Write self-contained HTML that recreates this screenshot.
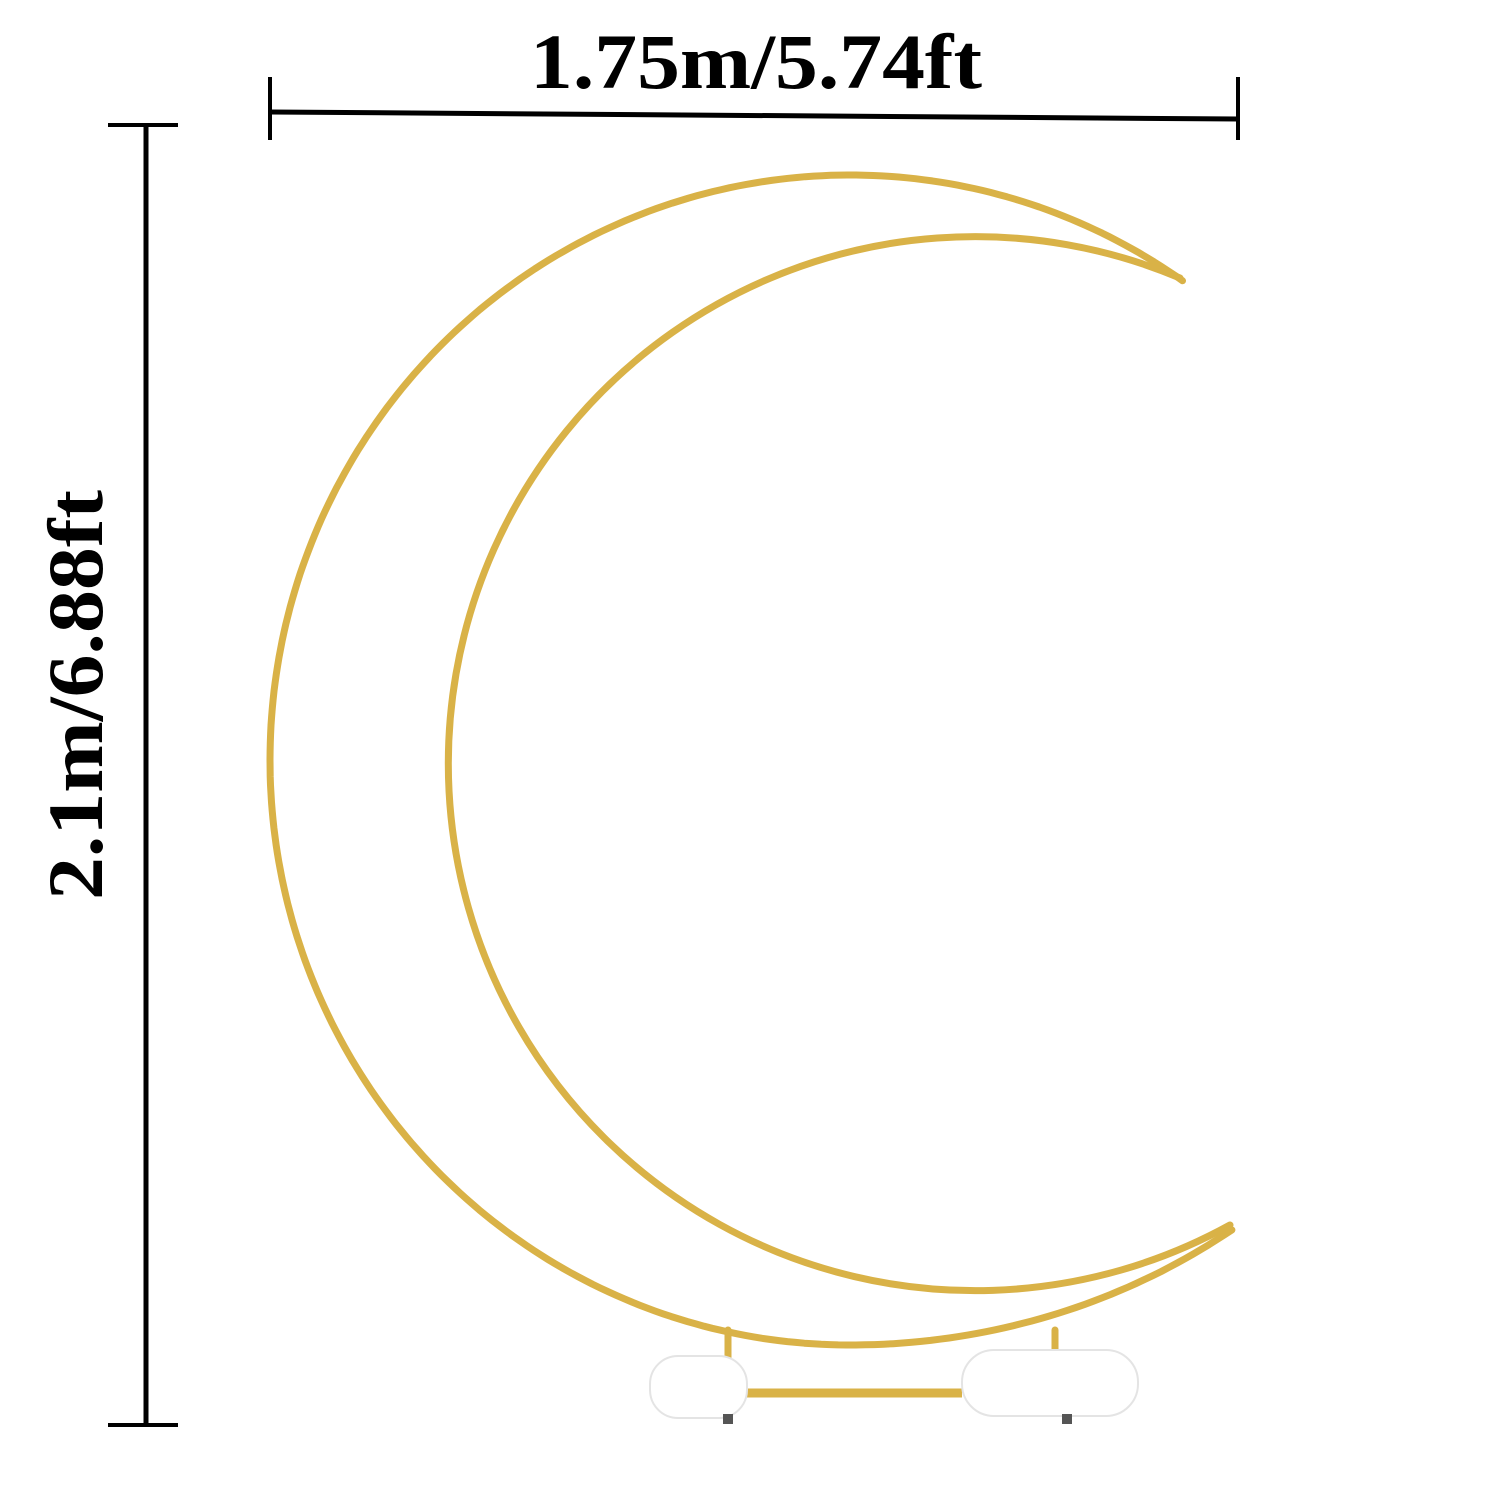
<!DOCTYPE html>
<html><head><meta charset="utf-8"><style>
html,body{margin:0;padding:0;background:#fff;width:1500px;height:1500px;overflow:hidden}
svg{display:block}
text{font-family:"Liberation Serif",serif;font-weight:bold;fill:#000}
</style></head><body>
<svg width="1500" height="1500" viewBox="0 0 1500 1500">
  <g>
    <line x1="270" y1="112" x2="1238" y2="119" stroke="#000" stroke-width="5"/>
    <line x1="270" y1="77" x2="270" y2="140" stroke="#000" stroke-width="4"/>
    <line x1="1238" y1="77" x2="1238" y2="140" stroke="#000" stroke-width="4"/>
    <text x="530" y="88" font-size="78" textLength="452" lengthAdjust="spacingAndGlyphs">1.75m/5.74ft</text>
  </g>
  <g>
    <line x1="146" y1="125" x2="146" y2="1425" stroke="#000" stroke-width="5"/>
    <line x1="108" y1="125" x2="178" y2="125" stroke="#000" stroke-width="4"/>
    <line x1="108" y1="1425" x2="178" y2="1425" stroke="#000" stroke-width="4"/>
    <text x="0" y="0" font-size="78" textLength="410" lengthAdjust="spacingAndGlyphs" transform="translate(102,900) rotate(-90)">2.1m/6.88ft</text>
  </g>
  <g fill="none" stroke="#d9b247" stroke-width="7" stroke-linecap="round" stroke-linejoin="round">
    <path id="outer" d=""/>
    <path d="M1180,278 A527,527 0 1 0 1230,1225"/>
    <line x1="728" y1="1330" x2="728" y2="1362"/>
    <line x1="1055" y1="1330" x2="1055" y2="1360"/>
    <line x1="745" y1="1393" x2="962" y2="1393" stroke-width="9" stroke-linecap="butt"/>
  </g>
  <g>
    <rect x="650" y="1356" width="97" height="62" rx="28" fill="#fff" stroke="#e4e4e4" stroke-width="2"/>
    <rect x="962" y="1350" width="176" height="66" rx="32" fill="#fff" stroke="#e4e4e4" stroke-width="2"/>
    <rect x="723" y="1414" width="10" height="10" fill="#555"/>
    <rect x="1062" y="1414" width="10" height="10" fill="#555"/>
  </g>
</svg>
<script>
(function(){
  var cx=850, cy=760, rx=580, ry=585, rx2=641;
  var start=Math.atan2(-480/ry,333/rx);
  var end=Math.atan2(470/ry,382/rx2)-2*Math.PI;
  var pts=[];
  for(var i=0;i<=300;i++){
    var t=start+(end-start)*i/300;
    var c=Math.cos(t), s=Math.sin(t);
    var r=(c>0&&s>0)?rx2:rx;
    pts.push((cx+r*c).toFixed(1)+','+(cy+ry*s).toFixed(1));
  }
  document.getElementById('outer').setAttribute('d','M'+pts.join(' L'));
})();
</script>
</body></html>
